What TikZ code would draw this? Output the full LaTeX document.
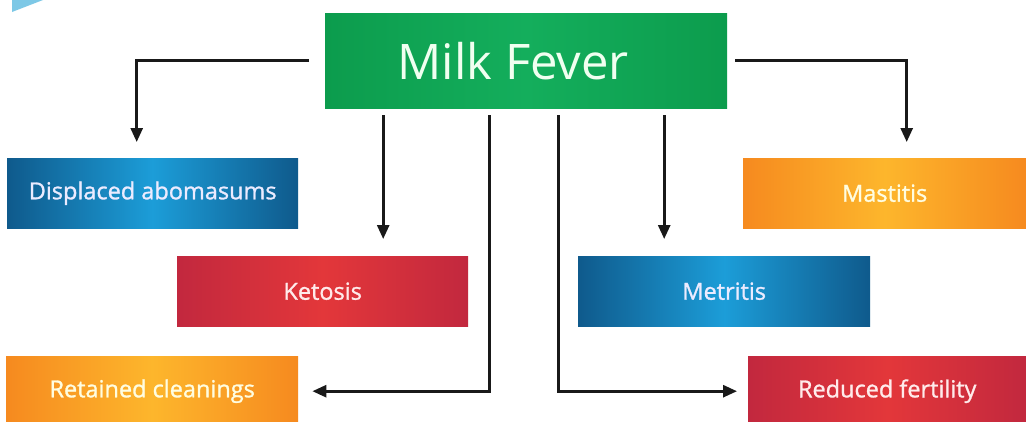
\documentclass[tikz,border=0pt]{standalone}
\usepackage{fontspec}
\setmainfont{Open Sans}
\newfontfamily\lblfont{Open Sans}[FakeBold=1.2]
\usetikzlibrary{arrows.meta,positioning,calc}
\definecolor{blued}{HTML}{0F5A8C}
\definecolor{bluel}{HTML}{1C9DD8}
\definecolor{redd}{HTML}{C2283E}
\definecolor{redl}{HTML}{E3373A}
\definecolor{orad}{HTML}{F68A1F}
\definecolor{oral}{HTML}{FDB62C}
\definecolor{grnd}{HTML}{0C9C4D}
\definecolor{grnl}{HTML}{14AE5C}
\definecolor{sky}{HTML}{7DC8E6}

\begin{document}
\begin{tikzpicture}[x=1pt,y=-1pt,font=\lblfont\fontsize{23.5}{28}\selectfont,
      box/.style={anchor=north west,draw=none,inner sep=0pt,minimum width=#1,
        minimum height=70pt},
      blu/.style={left color=blued,right color=blued,middle color=bluel,text=blue!8!white},
      rd/.style={left color=redd,right color=redd,middle color=redl,text=red!8!white},
      org/.style={left color=orad,right color=orad,middle color=oral,text=yellow!12!white},
      arr/.style={draw=black!90,line width=2.7pt,-{Triangle[width=12pt,length=14pt]}}]
    \clip (0,0) rectangle (1026,421);
    \fill[white] (0,0) rectangle (1026,421);
    \fill[sky] (12,0) -- (43,0) -- (12,12) -- cycle;
    % main box
    \node[box=402pt,minimum height=95pt,left color=grnd,right color=grnd,middle color=grnl]
      (mf) at (325,13){};
    \node[text=green!6!white,font=\rmfamily\fontsize{49}{56}\selectfont] at ([xshift=-13pt]mf.center){Milk Fever};
    % outcomes
    \foreach \n/\x/\y/\w/\s/\t in {da/7/158/291/blu/{Displaced abomasums},
        ma/743/158/283/org/{Mastitis},ke/177/256/291/rd/{Ketosis},
        me/578/256/292/blu/{Metritis},rc/6/356/292/org/{Retained cleanings},
        rf/748/356/278/rd/{Reduced fertility}}{
      \node[box=\w pt,\s] (\n) at (\x,\y){\t};}
    % connectors
    \draw[arr,shorten >=16pt] ([xshift=-16pt]mf.west) -| ([xshift=-16pt]da.north);
    \draw[arr,shorten >=16pt] ([xshift=8pt]mf.east) -| ([xshift=22pt]ma.north);
    \draw[arr,shorten <=7pt,shorten >=17pt] ([xshift=-143pt]mf.south) -- ([xshift=-143pt]mf.south |- ke.north);
    \draw[arr,shorten <=7pt,shorten >=17pt] ([xshift=138pt]mf.south) -- ([xshift=138pt]mf.south |- me.north);
    \draw[arr,shorten <=7pt,shorten >=14pt] ([xshift=-37pt]mf.south) |- (rc.east);
    \draw[arr,shorten <=7pt,shorten >=11pt] ([xshift=32pt]mf.south) |- (rf.west);
  \end{tikzpicture}
\end{document}
